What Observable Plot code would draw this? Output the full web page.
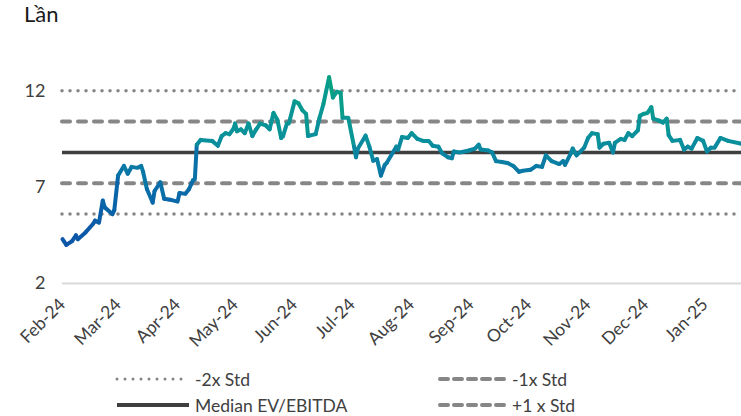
<!DOCTYPE html>
<html><head><meta charset="utf-8">
<script src="https://cdn.jsdelivr.net/npm/d3@7"></script>
<script src="https://cdn.jsdelivr.net/npm/@observablehq/plot@0.6"></script>
<style>
body{margin:0;background:#fff;font-family:Lato,"Noto Sans",sans-serif;}
#wrap{position:relative;width:741px;height:416px;overflow:hidden;}
#chart{position:absolute;left:0;top:0;}
#unit{position:absolute;left:24px;top:0px;font-size:22px;color:#1a1a1a;}
.leg{position:absolute;height:22px;font-size:17.5px;color:#404040;display:flex;align-items:center;white-space:nowrap;}
.leg svg{margin-right:4px;}
</style></head><body>
<div id="wrap"><div id="chart"></div><div id="unit">Lần</div><div id="legend"></div></div>
<script>
// ---- data ----
const dates = [
"2024-02-01","2024-02-03","2024-02-06","2024-02-08","2024-02-09","2024-02-13","2024-02-17","2024-02-18","2024-02-20","2024-02-22","2024-02-23","2024-02-27","2024-02-28",
"2024-03-01","2024-03-04","2024-03-06","2024-03-08","2024-03-11","2024-03-13","2024-03-14","2024-03-16","2024-03-19","2024-03-20","2024-03-23","2024-03-25","2024-03-28",
"2024-04-01","2024-04-02","2024-04-05","2024-04-07","2024-04-09","2024-04-10","2024-04-11","2024-04-13","2024-04-19","2024-04-22","2024-04-24","2024-04-26","2024-04-28","2024-04-30",
"2024-05-01","2024-05-02","2024-05-04","2024-05-06","2024-05-08","2024-05-10","2024-05-12","2024-05-14","2024-05-17","2024-05-19","2024-05-21","2024-05-23","2024-05-25","2024-05-26","2024-05-28","2024-05-29",
"2024-06-01","2024-06-03","2024-06-05","2024-06-07","2024-06-08","2024-06-12","2024-06-14","2024-06-16","2024-06-19","2024-06-21","2024-06-23","2024-06-25","2024-06-26","2024-06-29",
"2024-07-02","2024-07-03","2024-07-04","2024-07-08","2024-07-10","2024-07-12","2024-07-14","2024-07-16","2024-07-18","2024-07-19","2024-07-24","2024-07-25","2024-07-27","2024-07-30",
"2024-08-01","2024-08-04","2024-08-07","2024-08-10","2024-08-12","2024-08-15","2024-08-17","2024-08-20","2024-08-22","2024-08-23","2024-08-26","2024-08-31",
"2024-09-03","2024-09-05","2024-09-06","2024-09-10","2024-09-12","2024-09-14","2024-09-17","2024-09-20","2024-09-23","2024-09-26","2024-09-28",
"2024-10-02","2024-10-05","2024-10-08","2024-10-10","2024-10-13","2024-10-17","2024-10-19","2024-10-20","2024-10-23","2024-10-24","2024-10-26","2024-10-30",
"2024-11-01","2024-11-03","2024-11-06","2024-11-07","2024-11-09","2024-11-12","2024-11-14","2024-11-15","2024-11-18","2024-11-20","2024-11-22","2024-11-24","2024-11-27","2024-11-28","2024-11-30",
"2024-12-02","2024-12-04","2024-12-05","2024-12-08","2024-12-10","2024-12-12","2024-12-13","2024-12-15","2024-12-19","2024-12-21","2024-12-23","2024-12-25","2024-12-28","2024-12-31",
"2025-01-02","2025-01-04","2025-01-06","2025-01-09","2025-01-13","2025-01-20"
];
const values = [
4.3,4.0,4.2,4.5,4.3,4.65,5.1,5.26,5.15,6.3,5.95,5.6,5.8,
7.6,8.1,7.7,8.05,8.0,8.1,7.8,6.9,6.2,6.8,7.25,6.4,6.35,
6.25,6.7,6.65,6.9,7.35,7.4,9.2,9.45,9.4,9.15,9.65,9.8,9.75,10.0,
10.3,9.9,10.0,9.8,10.3,9.65,10.0,10.3,10.2,10.0,10.85,10.5,9.55,9.65,10.3,10.3,
11.45,11.35,11.0,10.8,9.65,9.75,10.6,11.3,12.7,11.65,11.95,11.9,10.6,10.6,
9.1,8.55,9.0,9.67,9.1,8.37,8.45,7.6,8.15,8.25,9.1,8.95,9.6,9.55,
9.8,9.5,9.4,9.4,9.15,9.1,8.75,8.55,8.5,8.85,8.8,8.9,
9.0,9.2,8.95,8.9,8.8,8.35,8.3,8.25,8.1,7.8,7.85,
7.9,8.1,8.05,8.65,8.35,8.2,8.35,8.15,8.75,9.0,8.65,9.05,
9.55,9.8,9.75,9.05,9.25,9.3,8.8,9.3,9.5,9.45,9.8,9.65,9.95,10.7,10.8,
10.85,11.15,10.55,10.45,10.35,10.55,9.7,9.4,9.45,8.95,9.1,9.0,9.55,9.4,
8.85,9.05,9.05,9.55,9.4,9.25
];
const refNames  = ["-2x Std","-1x Std","Median EV/EBITDA","+1 x Std","+2x Std"];
const refValues = [5.6, 7.2, 8.8, 10.4, 12.0];
const refKinds  = ["dot","dash","solid","dash","dot"];
const yTicks = [2, 7, 12];
const monthTicks = ["2024-02-01","2024-03-01","2024-04-01","2024-05-01","2024-06-01","2024-07-01","2024-08-01","2024-09-01","2024-10-01","2024-11-01","2024-12-01","2025-01-01"];
const xStart = "2024-02-01", xEnd = "2025-01-20";
const unitLabel = "Lần";

// ---- build ----
const series = dates.map((d, i) => ({date: new Date(d), v: values[i]}));
const refs = refNames.map((n, i) => ({name: n, v: refValues[i], kind: refKinds[i]}));
const GRAY = "#868686", DARK = "#3f3f3f";

const chart = Plot.plot({
  width: 741, height: 360,
  marginTop: 71, marginBottom: 77, marginLeft: 62, marginRight: 0,
  style: {fontFamily: "Lato, 'Noto Sans', sans-serif", color: "#404040", background: "transparent", overflow: "visible"},
  x: {type: "utc", domain: [new Date(xStart), new Date(xEnd)]},
  y: {domain: [2, 13]},
  color: {type: "linear", domain: [4, 7.5, 9.5, 12.7], range: ["#0b55a8", "#0a72a8", "#0a909c", "#08a184"]},
  marks: [
    Plot.ruleY([2], {stroke: "#d9d9d9", strokeWidth: 2}),
    Plot.ruleY(refs.filter(r => r.kind === "dot"), {y: "v", stroke: GRAY, strokeWidth: 3.5, strokeDasharray: "0 8", strokeLinecap: "round"}),
    Plot.ruleY(refs.filter(r => r.kind === "dash"), {y: "v", stroke: GRAY, strokeWidth: 4, strokeDasharray: "8 8", strokeLinecap: "round"}),
    Plot.ruleY(refs.filter(r => r.kind === "solid"), {y: "v", stroke: DARK, strokeWidth: 3.5}),
    Plot.line(series, {x: "date", y: "v", z: null, stroke: "v", strokeWidth: 4, strokeLinejoin: "round", strokeLinecap: "round"}),
    Plot.axisY({ticks: yTicks, tickSize: 0, tickPadding: 17, fontSize: 18, label: null}),
    Plot.axisX({ticks: monthTicks.map(d => new Date(d)), tickFormat: d3.utcFormat("%b-%y"), tickRotate: -45, tickSize: 0, tickPadding: 18, fontSize: 17.5, label: null})
  ]
});
document.getElementById("chart").appendChild(chart);
document.getElementById("unit").textContent = unitLabel;

// ---- legend (HTML below the plot area) ----
function swatch(kind, w) {
  const ns = "http://www.w3.org/2000/svg";
  const s = document.createElementNS(ns, "svg");
  s.setAttribute("width", w); s.setAttribute("height", 8);
  const l = document.createElementNS(ns, "line");
  l.setAttribute("x1", 2); l.setAttribute("x2", w - 2); l.setAttribute("y1", 4); l.setAttribute("y2", 4);
  if (kind === "dot") { l.setAttribute("stroke", GRAY); l.setAttribute("stroke-width", 3); l.setAttribute("stroke-dasharray", "0 8"); l.setAttribute("stroke-linecap", "round"); }
  else if (kind === "dash") { l.setAttribute("stroke", GRAY); l.setAttribute("stroke-width", 4); l.setAttribute("stroke-dasharray", "8 6"); l.setAttribute("stroke-linecap", "round"); }
  else { l.setAttribute("stroke", DARK); l.setAttribute("stroke-width", 4); }
  s.appendChild(l);
  return s;
}
const legPos = [[115, 368], [438, 368], [115, 394], [438, 394]];
const leg = document.getElementById("legend");
refs.slice(0, 4).forEach((r, i) => {
  const d = document.createElement("div");
  d.className = "leg";
  d.style.left = legPos[i][0] + "px"; d.style.top = legPos[i][1] + "px";
  d.appendChild(swatch(r.kind, i % 2 === 0 ? 76 : 70));
  const t = document.createElement("span"); t.textContent = r.name;
  d.appendChild(t);
  leg.appendChild(d);
});
</script>
</body></html>
